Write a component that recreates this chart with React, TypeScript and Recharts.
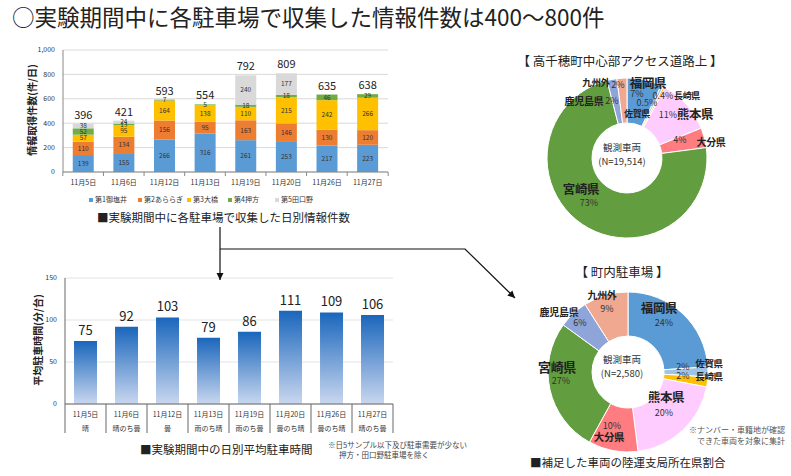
import React from "react"
import {
  ComposedChart,
  BarChart,
  Bar,
  Line,
  XAxis,
  YAxis,
  CartesianGrid,
  LabelList,
  PieChart,
  Pie,
  Cell,
} from "recharts"

// daily counts per parking lot
const dates = ["11月5日", "11月6日", "11月12日", "11月13日", "11月19日", "11月20日", "11月26日", "11月27日"]
const lotNames = ["第1御塩井", "第2あららぎ", "第3大橋", "第4押方", "第5田口野"]
const mishioi = [139, 155, 266, 316, 261, 253, 217, 223]
const araragi = [110, 134, 156, 95, 163, 146, 130, 120]
const ohashi = [57, 95, 164, 138, 110, 215, 242, 266]
const oshikata = [52, 13, 7, 5, 18, 18, 46, 29]
const taguchino = [38, 24, 0, 0, 240, 177, 0, 0]
const countTicks = [0, 200, 400, 600, 800, 1000]

// average parking time
const weather = ["晴", "晴のち曇", "曇", "雨のち晴", "雨のち曇", "曇のち晴", "曇のち晴", "晴のち曇"]
const parkingMinutes = [75, 92, 103, 79, 86, 111, 109, 106]
const minuteTicks = [0, 50, 100, 150]

// prefecture shares (%)
const prefectures = ["福岡県", "佐賀県", "長崎県", "熊本県", "大分県", "宮崎県", "鹿児島県", "九州外"]
const roadShare = [7, 0.5, 0.4, 11, 4, 73, 2, 2]
const lotShare = [24, 2, 2, 20, 10, 27, 6, 9]

const lotColors = ["#5B9BD5", "#ED7D31", "#FFC000", "#70AD47", "#D9D9D9"]
const prefColors = ["#5B9BD5", "#9DC3E6", "#FFC000", "#FFCCFF", "#FF7C80", "#629D3F", "#8FA5D9", "#F0A890"]

const countData = dates.map((d, i) => ({
  date: d,
  s1: mishioi[i],
  s2: araragi[i],
  s3: ohashi[i],
  s4: oshikata[i],
  s5: taguchino[i],
  total: mishioi[i] + araragi[i] + ohashi[i] + oshikata[i] + taguchino[i],
}))
const minuteData = dates.map((d, i) => ({ date: d, weather: weather[i], minutes: parkingMinutes[i] }))
const roadData = prefectures.map((p, i) => ({ name: p, value: roadShare[i] }))
const lotData = prefectures.map((p, i) => ({ name: p, value: lotShare[i] }))

const FONT = "'Noto Sans CJK JP', 'Noto Sans', sans-serif"

function T({ x, y, s = 9, b = false, c = "#222", children }: any) {
  return (
    <div
      style={{
        position: "absolute",
        left: x,
        top: y,
        transform: "translate(-50%,-50%)",
        fontSize: s,
        fontWeight: b ? 700 : 400,
        color: c,
        whiteSpace: "nowrap",
        lineHeight: 1,
        letterSpacing: b ? -0.3 : 0,
      }}
    >
      {children}
    </div>
  )
}

function VLabel({ x, y, children }: any) {
  return (
    <div
      style={{
        position: "absolute",
        left: x,
        top: y,
        transform: "translate(-50%,-50%) rotate(-90deg)",
        fontSize: 10,
        fontWeight: 700,
        color: "#222",
        whiteSpace: "nowrap",
        lineHeight: 1,
      }}
    >
      {children}
    </div>
  )
}

const CountTick = (props: any) => {
  const { x, y, payload, index } = props
  const half = 20.5
  return (
    <g>
      <line x1={x - half} x2={x - half} y1={y} y2={y + 4} stroke="#888" />
      {index === dates.length - 1 && <line x1={x + half} x2={x + half} y1={y} y2={y + 4} stroke="#888" />}
      <text x={x} y={y + 13} textAnchor="middle" fontSize={7} fill="#333">
        {payload.value}
      </text>
    </g>
  )
}

const MinuteTick = (props: any) => {
  const { x, y, payload, index } = props
  const half = 20.5
  return (
    <g>
      <line x1={x - half} x2={x - half} y1={y} y2={y + 29} stroke="#666" />
      {index === dates.length - 1 && <line x1={x + half} x2={x + half} y1={y} y2={y + 29} stroke="#666" />}
      <text x={x} y={y + 13} textAnchor="middle" fontSize={7} fill="#333">
        {payload.value}
      </text>
      <text x={x} y={y + 27} textAnchor="middle" fontSize={7} fill="#333">
        {weather[index]}
      </text>
    </g>
  )
}

const hideZero = (v: any) => (v ? v : "")

export default function App() {
  const legendX = [89, 138, 187, 228, 275]
  return (
    <div
      style={{
        position: "absolute",
        left: 0,
        top: 0,
        width: 791,
        height: 476,
        background: "#fff",
        fontFamily: FONT,
        overflow: "hidden",
      }}
    >
      <div style={{ position: "absolute", left: 12, top: 4, fontSize: 22.5, lineHeight: "25px", color: "#222", whiteSpace: "nowrap" }}>
        ○実験期間中に各駐車場で収集した情報件数は400～800件
      </div>

      {/* daily counts */}
      <div style={{ position: "absolute", left: 0, top: 40 }}>
        <ComposedChart width={400} height={150} data={countData} margin={{ top: 10, right: 12, bottom: 0, left: 0 }} barCategoryGap="24%">
          <CartesianGrid vertical={false} stroke="#D9D9D9" />
          <XAxis dataKey="date" height={18} tick={<CountTick />} tickLine={false} tickSize={0} tickMargin={0} axisLine={{ stroke: "#888" }} interval={0} />
          <YAxis
            width={63}
            domain={[0, 1000]}
            ticks={countTicks}
            tickFormatter={(v) => v.toLocaleString("en-US")}
            tick={{ fontSize: 7, fill: "#333" }}
            tickLine={false}
            axisLine={{ stroke: "#888" }}
          />
          {["s1", "s2", "s3", "s4", "s5"].map((k, i) => (
            <Bar key={k} dataKey={k} stackId="a" fill={lotColors[i]} isAnimationActive={false}>
              <LabelList dataKey={k} position="center" fontSize={6.5} fill="#333" formatter={hideZero} />
            </Bar>
          ))}
          <Line dataKey="total" stroke="none" dot={false} activeDot={false} isAnimationActive={false}>
            <LabelList dataKey="total" position="top" offset={5} fontSize={11} fill="#222" />
          </Line>
        </ComposedChart>
      </div>
      <VLabel x={32} y={110}>情報取得件数(件/日)</VLabel>
      {lotNames.map((n, i) => (
        <div key={n} style={{ position: "absolute", left: legendX[i], top: 194, fontSize: 7, color: "#333", whiteSpace: "nowrap", lineHeight: "10px" }}>
          <span style={{ display: "inline-block", width: 4, height: 4, background: lotColors[i], marginRight: 2, verticalAlign: "middle" }} />
          {n}
        </div>
      ))}
      <div style={{ position: "absolute", left: 97, top: 209, fontSize: 11.5, color: "#222", whiteSpace: "nowrap", lineHeight: "16px" }}>
        ■実験期間中に各駐車場で収集した日別情報件数
      </div>

      {/* average parking time */}
      <div style={{ position: "absolute", left: 0, top: 260 }}>
        <BarChart width={400} height={174} data={minuteData} margin={{ top: 18, right: 7, bottom: 0, left: 0 }} barCategoryGap="22%">
          <defs>
            <linearGradient id="blueGrad" x1="0" y1="0" x2="0" y2="1">
              <stop offset="0%" stopColor="#1A66BC" />
              <stop offset="100%" stopColor="#C9D7EF" />
            </linearGradient>
          </defs>
          <CartesianGrid vertical={false} stroke="#E3E3E3" />
          <XAxis dataKey="date" height={30} tick={<MinuteTick />} tickLine={false} tickSize={0} tickMargin={0} axisLine={{ stroke: "#666" }} interval={0} />
          <YAxis width={65} domain={[0, 150]} ticks={minuteTicks} tick={{ fontSize: 7, fill: "#333" }} tickLine={false} axisLine={{ stroke: "#666" }} />
          <Bar dataKey="minutes" fill="url(#blueGrad)" isAnimationActive={false}>
            <LabelList dataKey="minutes" position="top" offset={6} fontSize={13} fill="#222" />
          </Bar>
        </BarChart>
      </div>
      <VLabel x={38} y={340}>平均駐車時間(分/台)</VLabel>
      <div style={{ position: "absolute", left: 140, top: 441, fontSize: 11.5, color: "#222", whiteSpace: "nowrap", lineHeight: "16px" }}>
        ■実験期間中の日別平均駐車時間
      </div>
      <div style={{ position: "absolute", left: 328, top: 440, fontSize: 7.5, color: "#444", whiteSpace: "nowrap", lineHeight: "10px" }}>
        ※日5サンプル以下及び駐車需要が少ない
        <br />
        <span style={{ paddingLeft: 11 }}>押方・田口野駐車場を除く</span>
      </div>

      {/* arrows */}
      <svg width={791} height={476} style={{ position: "absolute", left: 0, top: 0, pointerEvents: "none" }}>
        <defs>
          <marker id="ah" viewBox="0 0 10 10" refX="10" refY="5" markerWidth="6" markerHeight="6" orient="auto">
            <path d="M0,0 L10,5 L0,10 z" fill="#111" />
          </marker>
        </defs>
        <line x1={220} y1={227} x2={220} y2={280} stroke="#111" strokeWidth={1.2} markerEnd="url(#ah)" />
        <polyline points="220,249 465,249 515,298" fill="none" stroke="#111" strokeWidth={1.2} markerEnd="url(#ah)" />
      </svg>

      {/* road share donut */}
      <T x={620} y={61} s={12.5}>【 高千穂町中心部アクセス道路上 】</T>
      <div style={{ position: "absolute", left: 532, top: 63 }}>
        <PieChart width={180} height={180}>
          <Pie data={roadData} dataKey="value" cx={90} cy={90} innerRadius={35} outerRadius={80} startAngle={90} endAngle={-270} stroke="#fff" strokeWidth={1} isAnimationActive={false}>
            {roadData.map((d, i) => (
              <Cell key={d.name} fill={prefColors[i]} />
            ))}
          </Pie>
        </PieChart>
      </div>
      <T x={622} y={148} s={9.5} c="#333">観測車両</T>
      <T x={622} y={162} s={9.5} c="#333">(N=19,514)</T>
      <T x={596} y={83} s={9.5} b>九州外</T>
      <T x={618} y={84} s={9} c="#333">2%</T>
      <T x={648} y={83} s={12.5} b>福岡県</T>
      <T x={637} y={93} s={9} c="#333">7%</T>
      <T x={663} y={95} s={9} c="#333">0.4%</T>
      <T x={687} y={95} s={9} b>長崎県</T>
      <T x={647} y={102} s={9} c="#333">0.5%</T>
      <T x={584} y={101} s={10} b>鹿児島県</T>
      <T x={612} y={100} s={9} c="#333">2%</T>
      <T x={637} y={113} s={9} b>佐賀県</T>
      <T x={668} y={114} s={9} c="#333">11%</T>
      <T x={695} y={114} s={12.5} b>熊本県</T>
      <T x={680} y={139} s={9} c="#333">4%</T>
      <T x={711} y={142} s={10} b>大分県</T>
      <T x={581} y={189} s={12.5} b>宮崎県</T>
      <T x={589} y={202} s={9} c="#333">73%</T>

      {/* parking lot share donut */}
      <T x={622} y={272} s={12.5}>【 町内駐車場 】</T>
      <div style={{ position: "absolute", left: 533, top: 277 }}>
        <PieChart width={180} height={180}>
          <Pie data={lotData} dataKey="value" cx={90} cy={90} innerRadius={36} outerRadius={80} startAngle={90} endAngle={-270} stroke="#fff" strokeWidth={1} isAnimationActive={false}>
            {lotData.map((d, i) => (
              <Cell key={d.name} fill={prefColors[i]} />
            ))}
          </Pie>
        </PieChart>
      </div>
      <T x={622} y={360} s={9.5} c="#333">観測車両</T>
      <T x={622} y={374} s={9.5} c="#333">(N=2,580)</T>
      <T x={602} y={295} s={10} b>九州外</T>
      <T x={607} y={308} s={9} c="#333">9%</T>
      <T x={559} y={312} s={10} b>鹿児島県</T>
      <T x={580} y={322} s={9} c="#333">6%</T>
      <T x={659} y={308} s={12.5} b>福岡県</T>
      <T x={664} y={322} s={9} c="#333">24%</T>
      <T x={683} y={366} s={9} c="#333">2%</T>
      <T x={709} y={364} s={9.5} b>佐賀県</T>
      <T x={683} y={375} s={9} c="#333">2%</T>
      <T x={709} y={377} s={9.5} b>長崎県</T>
      <T x={666} y={397} s={12.5} b>熊本県</T>
      <T x={664} y={412} s={9} c="#333">20%</T>
      <T x={612} y={425} s={9} c="#333">10%</T>
      <T x={609} y={437} s={10.5} b>大分県</T>
      <T x={557} y={366} s={13} b>宮崎県</T>
      <T x={561} y={380} s={9} c="#333">27%</T>
      <div style={{ position: "absolute", left: 689, top: 424, fontSize: 8, color: "#555", whiteSpace: "nowrap", lineHeight: "11px", textAlign: "right" }}>
        ※ナンバー・車籍地が確認
        <br />
        できた車両を対象に集計
      </div>
      <div style={{ position: "absolute", left: 530, top: 454, fontSize: 11.5, color: "#222", whiteSpace: "nowrap", lineHeight: "16px" }}>
        ■補足した車両の陸運支局所在県割合
      </div>
    </div>
  )
}
